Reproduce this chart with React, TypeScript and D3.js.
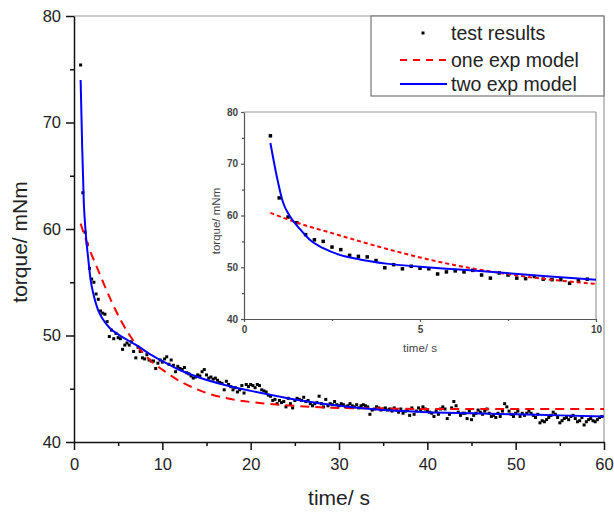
import * as React from "react";
import * as d3 from "d3";

// measured torque (mNm), one sample every 0.25 s from 0.75 s on
const firstTime = 0.75;
const sampleStep = 0.25;
const torqueValues = [
  75.4, 63.4, 59.7, 58.6, 56.3, 55.3, 55.0, 53.9, 53.4, 52.3, 52.1, 52.0, 51.3,
  49.9, 50.5, 49.7, 50.2, 49.8, 49.7, 48.7, 49.1, 49.3, 49.1, 49.4, 48.5, 47.9,
  48.9, 48.5, 47.9, 47.8, 48.2, 47.7, 47.6, 47.6, 46.9, 47.4, 47.7,
  // 10 s
  47.5, 47.8, 48.0, 47.3, 47.7, 47.2, 46.6, 47.1, 46.9, 46.8, 47.0, 46.5,
  46.4, 46.2, 46.0, 46.1, 46.3, 46.2, 46.6, 46.8, 46.3, 46.0, 46.1, 45.9,
  46.0, 45.8, 45.6, 45.5, 44.9, 45.7, 45.4, 45.2, 44.9, 45.1, 44.7, 44.9,
  45.3, 44.6, 45.4, 45.2,
  // 20 s
  45.4, 45.3, 45.1, 45.4, 45.3, 44.9, 44.8, 44.7, 44.4, 44.3, 43.9, 44.0,
  43.6, 43.9, 43.7, 43.8, 43.3, 44.1, 43.6, 43.2, 43.9, 44.1, 44.0, 43.9,
  44.2, 43.8, 43.9, 43.6, 43.4, 43.6, 43.7, 44.3, 43.6, 43.3, 44.0, 43.4,
  43.6, 43.5, 43.8, 43.5,
  // 30 s
  43.4, 43.6, 43.5, 43.3, 43.4, 43.6, 43.4, 43.3, 43.5, 43.2, 43.4, 43.5,
  43.4, 43.3, 42.6, 43.0, 43.1, 43.3, 43.2, 43.0, 43.1, 43.2, 43.0, 43.1,
  42.9, 43.2, 43.0, 42.8, 43.1, 42.7, 42.9, 43.0, 42.5, 43.2, 42.6, 42.9,
  43.2, 43.0, 43.3, 43.1,
  // 40 s
  42.9, 42.8, 42.7, 42.4, 42.9, 42.6, 43.1, 43.3, 43.1, 42.2, 42.6, 43.2,
  43.8, 43.4, 42.8, 42.5, 42.7, 42.7, 42.2, 42.9, 42.1, 42.5, 42.7, 43.0,
  42.8, 42.6, 42.9, 43.1, 42.7, 42.4, 42.5, 42.3, 42.7, 42.4, 42.9, 43.6,
  43.3, 42.9, 42.6, 42.4,
  // 50 s
  42.7, 42.9, 42.4, 42.7, 42.5, 42.7, 42.9, 42.7, 42.5, 42.3, 42.6, 41.8,
  42.0, 41.9, 42.1, 42.3, 42.5, 42.8, 42.6, 42.3, 41.8, 42.0, 42.2, 42.3,
  42.1, 42.4, 42.5, 42.2, 41.9, 42.0, 42.3, 41.6, 41.9, 42.1, 42.2, 42.0,
  41.9, 42.1, 42.3, 42.4,
];

// fitted curves
const twoExpTime = [0.75, 0.93, 1.11, 1.3, 1.6, 1.87, 2.25, 2.72, 3.29, 4.04, 5, 6, 7.25, 8.5, 10, 11.6, 14, 17.3, 20, 25, 30, 35, 40, 45, 50, 55, 60];
const twoExpTorque = [74.0, 67.6, 62.5, 59.9, 57.3, 55.3, 53.7, 52.4, 51.5, 50.7, 50.1, 49.6, 49.0, 48.3, 47.6, 46.9, 46.1, 45.3, 44.8, 44.0, 43.4, 43.0, 42.8, 42.7, 42.6, 42.5, 42.4];
const oneExpTime = [0.75, 1.6, 2.5, 3.4, 4.3, 5, 6, 7, 8, 9, 10, 12, 13.5, 15, 18, 21.8, 25, 30, 35, 40, 50, 60];
const oneExpTorque = [60.5, 58.4, 56.6, 54.8, 53.1, 51.9, 50.4, 49.2, 48.2, 47.4, 46.8, 45.7, 45.1, 44.6, 44.0, 43.6, 43.4, 43.2, 43.15, 43.1, 43.1, 43.1];

const mainXTicks = [0, 10, 20, 30, 40, 50, 60];
const mainXMinor = [5, 15, 25, 35, 45, 55];
const mainYTicks = [40, 50, 60, 70, 80];
const mainYMinor = [45, 55, 65, 75];
const insetXTicks = [0, 5, 10];
const insetXMinor = [2.5, 7.5];
const insetYTicks = [40, 50, 60, 70, 80];
const insetYMinor = [45, 55, 65, 75];
const legendLabels = ["test results", "one exp model", "two exp model"];

const FONT = "'Liberation Sans', Arial, sans-serif";

type Pt = [number, number];

function drawPanel(svg, o) {
  const x = d3.scaleLinear().domain(o.xDomain).range(o.xRange);
  const y = d3.scaleLinear().domain(o.yDomain).range(o.yRange);
  const g = svg.append("g");

  // top and right frame
  g.append("line").attr("x1", o.xRange[0]).attr("x2", o.xRange[1])
    .attr("y1", o.yRange[1]).attr("y2", o.yRange[1])
    .attr("stroke", "#999").attr("stroke-width", 1.2);
  g.append("line").attr("x1", o.xRange[1]).attr("x2", o.xRange[1])
    .attr("y1", o.yRange[0]).attr("y2", o.yRange[1])
    .attr("stroke", "#999").attr("stroke-width", 1.2);

  const line = d3.line<Pt>().x(d => x(d[0])).y(d => y(d[1])).curve(d3.curveMonotoneX);

  const red = oneExpTime.map((t, i) => [t, oneExpTorque[i]] as Pt).filter(d => d[0] <= o.xDomain[1]);
  const blue = twoExpTime.map((t, i) => [t, twoExpTorque[i]] as Pt).filter(d => d[0] <= o.xDomain[1]);

  // data points
  const pts = torqueValues.map((v, i) => [firstTime + i * sampleStep, v] as Pt)
    .filter(d => d[0] < o.xDomain[1]);
  g.append("g").selectAll("rect").data(pts).enter().append("rect")
    .attr("x", d => x(d[0]) - o.dot / 2)
    .attr("y", d => y(d[1]) - o.dot / 2)
    .attr("width", o.dot).attr("height", o.dot)
    .attr("fill", "#000");

  g.append("path").attr("d", line(red)).attr("fill", "none")
    .attr("stroke", "#ff0000").attr("stroke-width", o.lw)
    .attr("stroke-dasharray", o.dash);
  g.append("path").attr("d", line(blue)).attr("fill", "none")
    .attr("stroke", "#0000ff").attr("stroke-width", o.lw);

  // axes
  const bottom = g.append("g").attr("transform", `translate(0,${o.yRange[0]})`)
    .call(d3.axisBottom(x).tickValues(o.xTicks).tickSize(o.major).tickSizeOuter(0));
  bottom.append("g").call(d3.axisBottom(x).tickValues(o.xMinor).tickSize(o.minor).tickFormat(() => ""))
    .select(".domain").remove();
  const left = g.append("g").attr("transform", `translate(${o.xRange[0]},0)`)
    .call(d3.axisLeft(y).tickValues(o.yTicks).tickSize(o.major).tickSizeOuter(0).tickPadding(o.yPad));
  left.append("g").call(d3.axisLeft(y).tickValues(o.yMinor).tickSize(o.minor).tickFormat(() => ""))
    .select(".domain").remove();

  [bottom, left].forEach(a => {
    a.attr("font-family", FONT).attr("font-size", o.fs).attr("font-weight", o.fw);
    a.selectAll("path, line").attr("stroke", o.axisColor).attr("stroke-width", o.axisW);
    a.selectAll("text").attr("fill", o.textColor);
  });
  bottom.selectAll("text").attr("y", o.xLabelY).attr("dy", null);

  // titles
  svg.append("text").attr("x", o.xTitle[0]).attr("y", o.xTitle[1])
    .attr("text-anchor", "middle").attr("font-family", FONT).attr("font-size", o.tfs)
    .attr("fill", o.titleColor).text("time/ s");
  svg.append("text")
    .attr("transform", `translate(${o.yTitle[0]},${o.yTitle[1]}) rotate(-90)`)
    .attr("text-anchor", "middle").attr("font-family", FONT).attr("font-size", o.tfs)
    .attr("fill", o.titleColor).text("torque/ mNm");
}

function drawChart(svgEl) {
  const svg = d3.select(svgEl);
  svg.selectAll("*").remove();

  drawPanel(svg, {
    xDomain: [0, 60], xRange: [74, 604], yDomain: [40, 80], yRange: [442, 16],
    xTicks: mainXTicks, xMinor: mainXMinor, yTicks: mainYTicks, yMinor: mainYMinor,
    major: 8, minor: 4, yPad: 5, xLabelY: 28, fs: 16.5, fw: "normal",
    axisColor: "#111", axisW: 1.5, textColor: "#222",
    dot: 3, lw: 2, dash: "9,6",
    xTitle: [339, 505], yTitle: [27, 242], tfs: 21, titleColor: "#222",
  });

  drawPanel(svg, {
    xDomain: [0, 10], xRange: [244, 596], yDomain: [40, 80], yRange: [319, 112],
    xTicks: insetXTicks, xMinor: insetXMinor, yTicks: insetYTicks, yMinor: insetYMinor,
    major: 3, minor: 2, yPad: 3, xLabelY: 14, fs: 10, fw: "bold",
    axisColor: "#555", axisW: 1.2, textColor: "#444",
    dot: 3.5, lw: 2, dash: "4,3",
    xTitle: [420, 352], yTitle: [220, 221], tfs: 11.5, titleColor: "#444",
  });

  // legend
  const lg = svg.append("g");
  lg.append("rect").attr("x", 371).attr("y", 16).attr("width", 233).attr("height", 80)
    .attr("fill", "#fff").attr("stroke", "#777").attr("stroke-width", 1.2);
  const rowY = [33, 60, 84];
  lg.append("rect").attr("x", 421.5).attr("y", rowY[0] - 1.5).attr("width", 3).attr("height", 3).attr("fill", "#000");
  lg.append("line").attr("x1", 400).attr("x2", 447).attr("y1", rowY[1]).attr("y2", rowY[1])
    .attr("stroke", "#ff0000").attr("stroke-width", 2).attr("stroke-dasharray", "7,6");
  lg.append("line").attr("x1", 400).attr("x2", 447).attr("y1", rowY[2]).attr("y2", rowY[2])
    .attr("stroke", "#0000ff").attr("stroke-width", 2);
  lg.selectAll("text.lab").data(legendLabels).enter().append("text")
    .attr("class", "lab")
    .attr("x", 451).attr("y", (d, i) => rowY[i] + 6.5)
    .attr("font-family", FONT).attr("font-size", 19.5).attr("fill", "#222")
    .text(d => d);
}

const App = () => {
  const svgRef = React.useRef(null);
  React.useEffect(() => {
    drawChart(svgRef.current);
  }, []);
  return (
    <svg ref={svgRef} width={614} height={513}
      style={{ position: "absolute", left: 0, top: 0, background: "#fff" }} />
  );
};

export default App;
